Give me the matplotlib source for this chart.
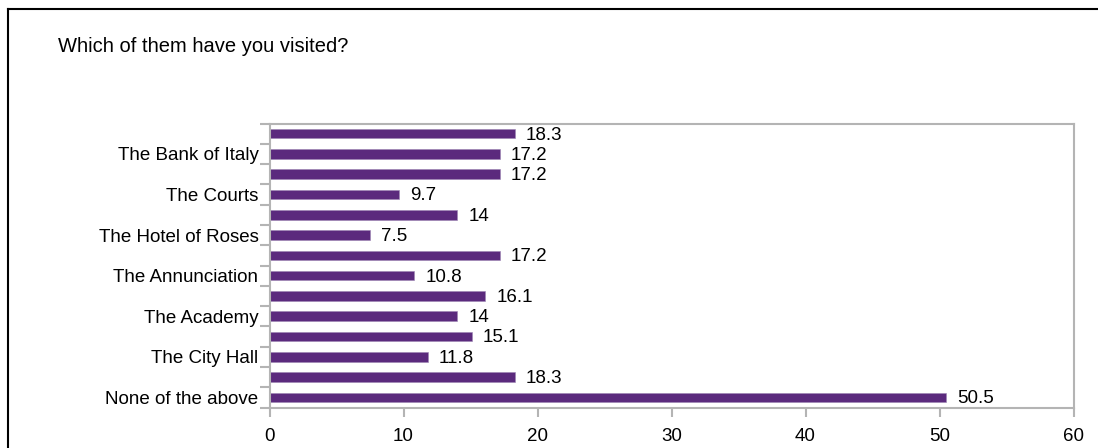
import numpy as np
import matplotlib
matplotlib.use("Agg")
import matplotlib.pyplot as plt
from matplotlib.lines import Line2D

plt.rcParams['font.family'] = ['Liberation Sans', 'DejaVu Sans']

# bars listed bottom -> top, only every other bar carries a name
labels = ['None of the above', '', 'The City Hall', '', 'The Academy', '',
          'The Annunciation', '', 'The Hotel of Roses', '', 'The Courts', '',
          'The Bank of Italy', '']
values = [50.5, 18.3, 11.8, 15.1, 14, 16.1, 10.8, 17.2, 7.5, 14, 9.7, 17.2, 17.2, 18.3]
value_text = ['50.5', '18.3', '11.8', '15.1', '14', '16.1', '10.8', '17.2', '7.5', '14',
              '9.7', '17.2', '17.2', '18.3']
xticks = [0, 10, 20, 30, 40, 50, 60]
title = 'Which of them have you visited?'

bar_color = '#5b2a7d'
grey = '#b4b4b4'
fs = 13.5

fig = plt.figure(figsize=(10.98, 4.48), dpi=100)
ax = fig.add_axes([269.5 / 1098, 1 - 407.5 / 448, (1073.5 - 269.5) / 1098, (407.5 - 123.5) / 448])

pos = np.arange(len(values))
ax.barh(pos, values, height=0.47, color=bar_color, edgecolor='#9c84b4', linewidth=0.4)

for y, v, t in zip(pos, values, value_text):
    ax.annotate(t, (v, y), xytext=(8, -1), textcoords='offset points',
                va='center', ha='left', fontsize=fs)

ax.set_xlim(0, 60)
ax.set_ylim(-0.5, len(values) - 0.5)
ax.set_xticks(xticks)
ax.set_xticklabels([str(x) for x in xticks], fontsize=fs)

# tick marks on category boundaries, names centred on bars
ax.set_yticks(np.arange(-0.5, len(values), 1))
ax.set_yticklabels([])
named = [i for i, l in enumerate(labels) if l]
ax.set_yticks(named, minor=True)
ax.set_yticklabels([labels[i] for i in named], minor=True, fontsize=fs)

ax.tick_params(axis='y', which='major', length=7.5, width=1.5, color=grey, direction='out')
ax.tick_params(axis='y', which='minor', length=0, pad=8)
ax.tick_params(axis='x', length=6.5, width=1.5, color=grey, pad=8)

for s in ax.spines.values():
    s.set_color(grey)
    s.set_linewidth(1.5)

fig.text(58 / 1098, 1 - 46 / 448, title, fontsize=14.5, va='center', ha='left')

# outer frame (only top and left edges fall inside the picture)
fig.add_artist(Line2D([8 / 1098, 1.01], [1 - 9 / 448, 1 - 9 / 448], color='black', lw=1.5))
fig.add_artist(Line2D([8 / 1098, 8 / 1098], [-0.01, 1 - 9 / 448], color='black', lw=1.5))

fig.savefig('out.png', dpi=100)
